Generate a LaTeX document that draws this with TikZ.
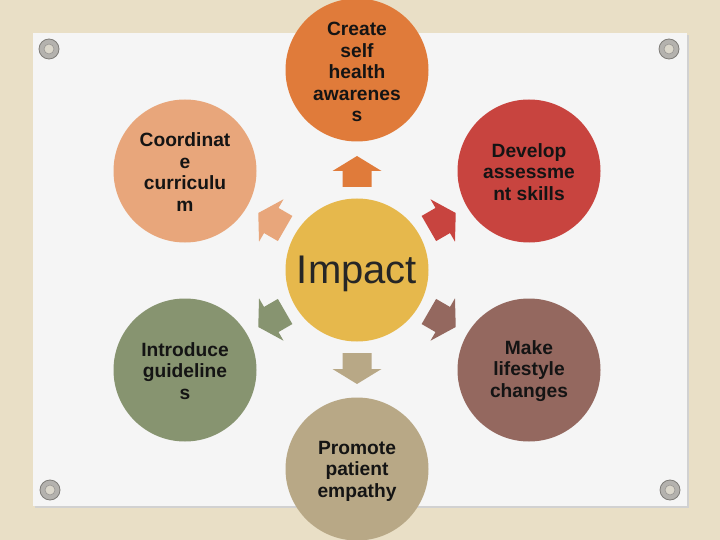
\documentclass[tikz,border=0pt]{standalone}
\usepackage{fontspec}
\setmainfont{Liberation Sans}
\usetikzlibrary{calc}
\begin{document}
\begin{tikzpicture}[x=1pt,y=-1pt,
  bubble/.style={circle, minimum size=143pt, inner sep=0pt},
  txt/.style={align=center, inner sep=0pt,
    font=\bfseries\fontsize{19.2}{21.6}\selectfont, text=black!92},
  pin/.style={circle, minimum size=20pt, inner sep=0pt, fill=pinring, draw=pinedge, line width=0.8pt},
  pinin/.style={circle, minimum size=10pt, inner sep=0pt, fill=pincore, draw=pinedge!80, line width=0.6pt},
  blockarrow/.pic={\fill[pic actions] (-15.5,-14.5) -- (0.5,-14.5) -- (0.5,-24.5) -- (15.5,0) -- (0.5,24.5) -- (0.5,14.5) -- (-15.5,14.5) -- cycle;}
]
\definecolor{bgbeige}{HTML}{E9DFC6}
\definecolor{paper}{HTML}{F5F5F5}
\definecolor{pinring}{HTML}{B4B2AE}
\definecolor{pinedge}{HTML}{7E7C78}
\definecolor{pincore}{HTML}{DAD6CA}
\definecolor{cgold}{HTML}{E6B84C}
\definecolor{corange}{HTML}{E07B3A}
\definecolor{csalmon}{HTML}{E8A67B}
\definecolor{cred}{HTML}{C8443F}
\definecolor{cbrown}{HTML}{94685F}
\definecolor{ctan}{HTML}{B8A886}
\definecolor{colive}{HTML}{879470}

\useasboundingbox (0,0) rectangle (720,540);
\fill[bgbeige] (0,0) rectangle (720,540);
% paper with shadow
\fill[black!18] (35,35) rectangle (689,508);
\fill[paper] (33,33) rectangle (687,506);

% pins
\foreach \n/\px/\py in {p1/49/49, p2/669/49, p3/50/490, p4/670/490}{
  \node[pin] (\n) at (\px,\py) {};
  \node[pinin] (\n i) at (\px,\py) {};
}

% circles
\node[bubble, fill=cgold] (c) at (357,270) {};
\node[bubble, fill=corange] (t) at (357,70) {};
\node[bubble, fill=csalmon] (ul) at (185,171) {};
\node[bubble, fill=cred] (ur) at (529,171) {};
\node[bubble, fill=colive] (ll) at (185,370) {};
\node[bubble, fill=cbrown] (lr) at (529,370) {};
\node[bubble, fill=ctan] (b) at (357,469) {};

% texts
\node[inner sep=0pt, font=\fontsize{40}{44}\selectfont, text=black!85] (ct) at ([yshift=-4pt]c.center) {Impact};
\node[txt] (tt) at ([yshift=-2pt]t.center) {Create\\self\\health\\awarenes\\s};
\node[txt] (ult) at ([yshift=-1pt]ul.center) {Coordinat\\e\\curriculu\\m};
\node[txt] (urt) at ([yshift=-1pt]ur.center) {Develop\\assessme\\nt skills};
\node[txt] (llt) at ([yshift=-1pt]ll.center) {Introduce\\guideline\\s};
\node[txt] (lrt) at ([yshift=-1pt]lr.center) {Make\\lifestyle\\changes};
\node[txt] (bt) at ([yshift=-2pt]b.center) {Promote\\patient\\empathy};

% block arrows
\pic[fill=corange, rotate=90] at ($(c)+(90:98.5pt)$) {blockarrow};
\pic[fill=ctan, rotate=-90] at ($(c)+(-90:98.5pt)$) {blockarrow};
\begin{scope}
  \clip (258,0) rectangle (456,540);
  \pic[fill=csalmon, rotate=150] at ($(c)+(150:98.5pt)$) {blockarrow};
  \pic[fill=cred, rotate=30] at ($(c)+(30:98.5pt)$) {blockarrow};
  \pic[fill=colive, rotate=210] at ($(c)+(210:98.5pt)$) {blockarrow};
  \pic[fill=cbrown, rotate=-30] at ($(c)+(-30:98.5pt)$) {blockarrow};
\end{scope}
\end{tikzpicture}
\end{document}
